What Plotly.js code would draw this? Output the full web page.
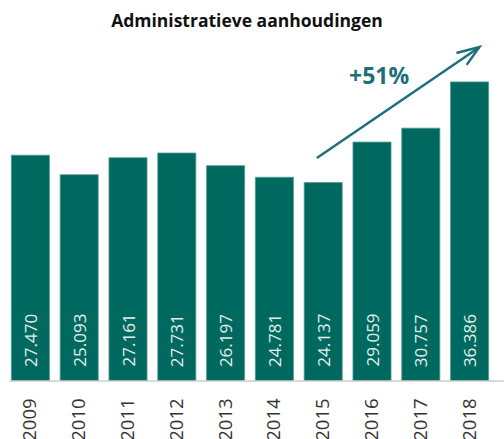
<!DOCTYPE html>
<html>
<head>
<meta charset="utf-8">
<script src="https://cdn.plot.ly/plotly-3.0.1.min.js"></script>
<style>
  html, body { margin: 0; padding: 0; background: #fff; }
  #chart { width: 504px; height: 439px; }
</style>
</head>
<body>
<div id="chart"></div>
<script>
// Data
const years = ['2009', '2010', '2011', '2012', '2013', '2014', '2015', '2016', '2017', '2018'];
const arrests = [27470, 25093, 27161, 27731, 26197, 24781, 24137, 29059, 30757, 36386];
const valueLabels = ['27.470', '25.093', '27.161', '27.731', '26.197', '24.781', '24.137', '29.059', '30.757', '36.386'];
const growthLabel = '+51%';

const barColor = '#00695f';
const arrowColor = '#1d6f7a';
const fontFamily = 'Open Sans, sans-serif';

const trace = {
    type: 'bar',
    x: years,
    y: arrests,
    marker: { color: barColor, line: { color: '#4f9a92', width: 0.8 } },
    hoverinfo: 'x+y'
};

// value labels sit at the foot of each bar, rotated (x = category index)
const valueAnnotations = years.map((yr, i) => ({
    x: i,
    y: 0,
    xref: 'x',
    yref: 'y',
    text: valueLabels[i],
    textangle: -90,
    showarrow: false,
    xanchor: 'center',
    yanchor: 'bottom',
    yshift: 12,
    font: { family: fontFamily, size: 17, color: '#e3eeec' }
}));

const layout = {
    width: 504,
    height: 439,
    paper_bgcolor: '#fff',
    plot_bgcolor: '#fff',
    margin: { l: 6, r: 10, t: 40, b: 58 },
    bargap: 0.22,
    showlegend: false,
    title: {
        text: '<b>Administratieve aanhoudingen</b>',
        font: { family: fontFamily, size: 17.5, color: '#111' },
        x: 0.49,
        xanchor: 'center',
        y: 0.952,
        yanchor: 'middle'
    },
    xaxis: {
        type: 'category',
        range: [-0.5, years.length - 0.5],
        tickangle: -90,
        ticks: 'outside',
        ticklen: 9,
        tickcolor: 'rgba(0,0,0,0)',
        tickfont: { family: fontFamily, size: 18.5, color: '#333' },
        showline: false,
        showgrid: false,
        zeroline: false
    },
    yaxis: {
        range: [0, 41480],
        visible: false,
        showgrid: false,
        zeroline: false
    },
    shapes: [
        // baseline
        {
            type: 'line', xref: 'paper', yref: 'paper',
            x0: 0.007, x1: 1.03, y0: 0, y1: 0,
            line: { color: '#cccccc', width: 1.5 }
        },
        // growth arrow shaft
        {
            type: 'line', xref: 'paper', yref: 'paper',
            x0: 0.637, y0: 0.654, x1: 0.970, y1: 0.979,
            line: { color: arrowColor, width: 2.5 }
        },
        // arrow head (open chevron)
        {
            type: 'path', xref: 'paper', yref: 'paper',
            path: 'M 0.923 0.962 L 0.970 0.979 L 0.944 0.927',
            line: { color: arrowColor, width: 2.5 }
        }
    ],
    annotations: valueAnnotations.concat([
        {
            xref: 'paper', yref: 'paper',
            x: 0.764, y: 0.896,
            xanchor: 'center', yanchor: 'middle',
            text: '<b>' + growthLabel + '</b>',
            showarrow: false,
            font: { family: fontFamily, size: 23, color: arrowColor }
        }
    ])
};

Plotly.newPlot('chart', [trace], layout, { displayModeBar: false, staticPlot: true });
</script>
</body>
</html>
